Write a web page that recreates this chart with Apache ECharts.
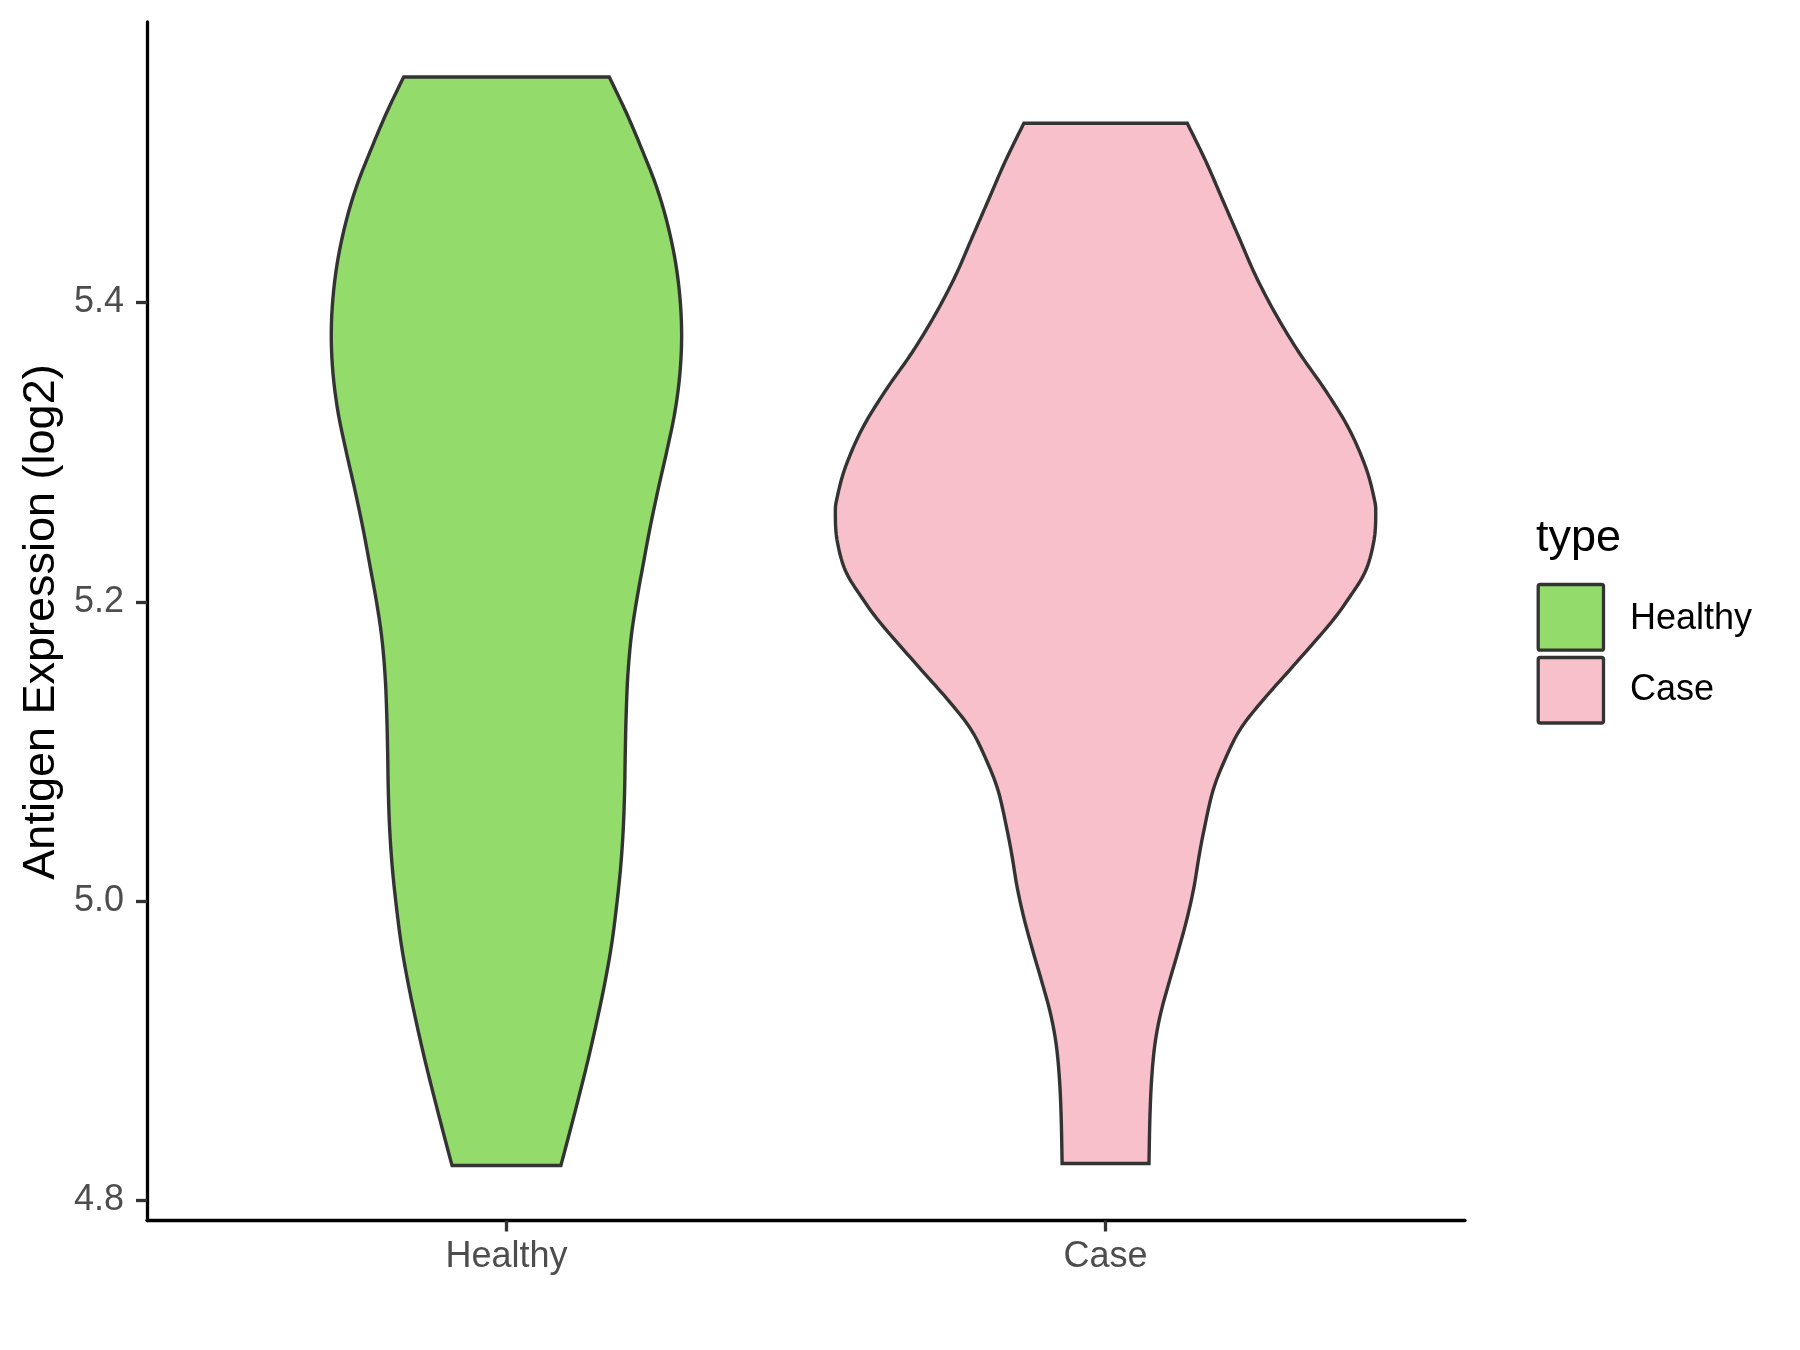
<!DOCTYPE html>
<html>
<head>
<meta charset="utf-8">
<script src="https://cdn.jsdelivr.net/npm/echarts@6/dist/echarts.min.js"></script>
<style>
html,body{margin:0;padding:0;background:#fff;}
#chart{width:1800px;height:1350px;}
</style>
</head>
<body>
<div id="chart"></div>
<script>
// ---- data ----
const categories = ['Healthy', 'Case'];
const categoryPos = [1, 2];
const fills = ['#93DB6A', '#F7C0CB'];
const yTicks = [4.8, 5.0, 5.2, 5.4];

// violin outline: y value and half-width (x units)
const healthyY = [5.5507, 5.5264, 5.5009, 5.4778, 5.4548, 5.4292, 5.4036, 5.3781, 5.3525, 5.3269, 5.3013, 5.2757, 5.2501, 5.2245, 5.1990, 5.1757, 5.1501, 5.1245, 5.0989, 5.0733, 5.0478, 5.0222, 4.9966, 4.9710, 4.9455, 4.9198, 4.8943, 4.8687, 4.8432, 4.8233];
const healthyHW = [0.1715, 0.2005, 0.2275, 0.2500, 0.2673, 0.2812, 0.2895, 0.2924, 0.2895, 0.2812, 0.2680, 0.2535, 0.2400, 0.2280, 0.2165, 0.2080, 0.2025, 0.1998, 0.1983, 0.1972, 0.1949, 0.1905, 0.1838, 0.1755, 0.1643, 0.1509, 0.1364, 0.1205, 0.1040, 0.0908];

const caseY = [5.5197, 5.4946, 5.4690, 5.4434, 5.4178, 5.3922, 5.3666, 5.3410, 5.3155, 5.2899, 5.2694, 5.2592, 5.2413, 5.2209, 5.2029, 5.1850, 5.1570, 5.1330, 5.1143, 5.0938, 5.0734, 5.0478, 5.0299, 5.0094, 4.9890, 4.9685, 4.9455, 4.9250, 4.9046, 4.8815, 4.8560, 4.8247];
const caseHW = [0.1364, 0.1671, 0.1949, 0.2227, 0.2506, 0.2840, 0.3229, 0.3675, 0.4064, 0.4343, 0.4482, 0.4510, 0.4482, 0.4343, 0.4070, 0.3740, 0.3130, 0.2600, 0.2240, 0.1985, 0.1790, 0.1645, 0.1560, 0.1476, 0.1364, 0.1226, 0.1059, 0.0920, 0.0825, 0.0770, 0.0741, 0.0725];

const groups = [
  {name: categories[0], pos: categoryPos[0], ys: healthyY, hws: healthyHW, color: fills[0]},
  {name: categories[1], pos: categoryPos[1], ys: caseY, hws: caseHW, color: fills[1]}
];

// ---- rendering helpers ----
function catmull(pts, steps) {
  if (pts.length < 3) return pts.slice();
  const out = [pts[0]];
  for (let i = 0; i < pts.length - 1; i++) {
    const p0 = pts[Math.max(0, i - 1)], p1 = pts[i], p2 = pts[i + 1], p3 = pts[Math.min(pts.length - 1, i + 2)];
    for (let s = 1; s <= steps; s++) {
      const t = s / steps, t2 = t * t, t3 = t2 * t;
      const f = (a, b, c, d) => 0.5 * ((2 * b) + (-a + c) * t + (2 * a - 5 * b + 4 * c - d) * t2 + (-a + 3 * b - 3 * c + d) * t3);
      out.push([f(p0[0], p1[0], p2[0], p3[0]), f(p0[1], p1[1], p2[1], p3[1])]);
    }
  }
  return out;
}

function makeSeries(g) {
  return {
    type: 'custom',
    name: g.name,
    coordinateSystem: 'cartesian2d',
    data: g.ys.map((y, i) => [g.pos, y, g.hws[i]]),
    renderItem: function (params, api) {
      if (params.dataIndexInside !== 0) return null;
      const n = params.dataInsideLength;
      const left = [], right = [];
      for (let i = 0; i < n; i++) {
        const x = api.value(0, i), y = api.value(1, i), hw = api.value(2, i);
        left.push(api.coord([x - hw, y]));
        right.push(api.coord([x + hw, y]));
      }
      const l = catmull(left, 10);
      const r = catmull(right, 10).reverse();
      const pts = l.concat(r);
      return {
        type: 'polygon',
        shape: {points: pts},
        style: {fill: g.color, stroke: '#333333', lineWidth: 3.4, lineJoin: 'miter'},
        silent: true
      };
    },
    z: 2
  };
}

const chart = echarts.init(document.getElementById('chart'), null, {renderer: 'canvas'});
const FONT = '"Liberation Sans", Arial, Helvetica, sans-serif';

const option = {
  backgroundColor: '#ffffff',
  animation: false,
  grid: {left: 147, right: 335, top: 22, bottom: 129.5, containLabel: false},
  xAxis: {
    type: 'value',
    min: 0.4, max: 2.6,
    splitLine: {show: false},
    axisLine: {show: true, onZero: false, lineStyle: {color: '#000000', width: 3.3}},
    axisTick: {show: true, customValues: categoryPos, length: 11, lineStyle: {color: '#333333', width: 3.3}},
    axisLabel: {
      show: true, customValues: categoryPos, margin: 19,
      fontSize: 36, color: '#4D4D4D', fontFamily: FONT,
      formatter: function (v) { const i = categoryPos.indexOf(Math.round(v)); return i >= 0 ? categories[i] : ''; }
    }
  },
  yAxis: {
    type: 'value',
    min: 4.7866, max: 5.5874,
    splitLine: {show: false},
    axisLine: {show: true, onZero: false, lineStyle: {color: '#000000', width: 3.3}},
    axisTick: {show: true, customValues: yTicks, length: 11, lineStyle: {color: '#333333', width: 3.3}},
    axisLabel: {
      show: true, customValues: yTicks, margin: 23,
      fontSize: 36, color: '#4D4D4D', fontFamily: FONT,
      formatter: function (v) { return v.toFixed(1); }
    }
  },
  series: groups.map(makeSeries),
  graphic: [
    {type: 'text', x: 42, y: 622, rotation: Math.PI / 2,
     style: {text: 'Antigen Expression (log2)', fontSize: 45, fontFamily: FONT, fill: '#000000', align: 'center', verticalAlign: 'middle'}},
    {type: 'text', x: 1536, y: 539,
     style: {text: 'type', fontSize: 45, fontFamily: FONT, fill: '#000000', align: 'left', verticalAlign: 'middle'}},
    {type: 'rect', shape: {x: 1538.2, y: 584.5, width: 65.3, height: 65.7, r: 2},
     style: {fill: fills[0], stroke: '#333333', lineWidth: 3.3}},
    {type: 'rect', shape: {x: 1538.2, y: 657.5, width: 65.3, height: 65.5, r: 2},
     style: {fill: fills[1], stroke: '#333333', lineWidth: 3.3}},
    {type: 'text', x: 1630, y: 619,
     style: {text: categories[0], fontSize: 36, fontFamily: FONT, fill: '#000000', align: 'left', verticalAlign: 'middle'}},
    {type: 'text', x: 1630, y: 690,
     style: {text: categories[1], fontSize: 36, fontFamily: FONT, fill: '#000000', align: 'left', verticalAlign: 'middle'}}
  ]
};
chart.setOption(option);
</script>
</body>
</html>
